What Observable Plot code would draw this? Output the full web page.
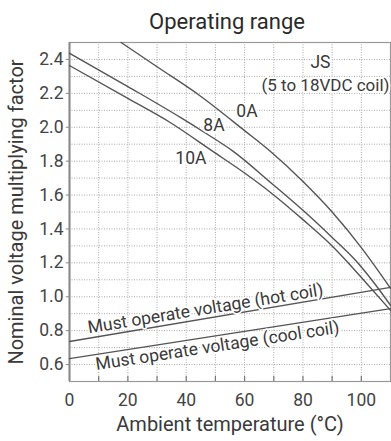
<!DOCTYPE html>
<html>
<head>
<meta charset="utf-8">
<script src="https://cdn.jsdelivr.net/npm/d3@7"></script>
<script src="https://cdn.jsdelivr.net/npm/@observablehq/plot@0.6"></script>
<style>
  html, body { margin: 0; padding: 0; background: #fff; }
  #chart svg { display: block; }
</style>
</head>
<body>
<div id="chart"></div>
<script>
// ---- Data ----
const temps0A   = [17.7, 30, 44.7, 60, 68.6, 80, 90, 100, 110];
const factor0A  = [2.5, 2.357, 2.186, 1.98, 1.861, 1.68, 1.5, 1.29, 1.05];

const temps8A   = [0, 20, 38, 46, 56, 69, 80, 90, 98, 104, 110];
const factor8A  = [2.437, 2.24, 2.058, 1.972, 1.859, 1.673, 1.51, 1.35, 1.215, 1.09, 0.95];

const temps10A  = [0, 20, 34.5, 49, 60, 69, 80, 90, 95, 102, 110];
const factor10A = [2.364, 2.17, 2.028, 1.859, 1.73, 1.614, 1.455, 1.30, 1.21, 1.075, 0.92];

const tempsHot   = [0, 110];
const factorHot  = [0.736, 1.055];
const tempsCool  = [0, 110];
const factorCool = [0.635, 0.93];

const xTicks = [0, 20, 40, 60, 80, 100];
const xGrid  = [10, 20, 30, 40, 50, 60, 70, 80, 90, 100];
const yTicks = [0.6, 0.8, 1.0, 1.2, 1.4, 1.6, 1.8, 2.0, 2.2, 2.4];
const yGrid  = [0.6, 0.7, 0.8, 0.9, 1.0, 1.1, 1.2, 1.3, 1.4, 1.5, 1.6, 1.7, 1.8, 1.9, 2.0, 2.1, 2.2, 2.3, 2.4];

const titleText = "Operating range";
const xLabel = "Ambient temperature (°C)";
const yLabel = "Nominal voltage multiplying factor";

// annotation labels (text, x in °C, y in factor)
const curveLabels = [
  {text: "0A",  t: 60.8, v: 2.092},
  {text: "8A",  t: 49.5, v: 2.009},
  {text: "10A", t: 41.6, v: 1.814},
  {text: "JS",  t: 86.0, v: 2.382}
];

// ---- build tables ----
const toRows = (ts, vs, name) => ts.map((t, i) => ({t, v: vs[i], name}));
const curves = [
  ...toRows(temps0A, factor0A, "0A"),
  ...toRows(temps8A, factor8A, "8A"),
  ...toRows(temps10A, factor10A, "10A")
];
const hot = toRows(tempsHot, factorHot, "hot");
const cool = toRows(tempsCool, factorCool, "cool");

const font = "Roboto, 'Open Sans', sans-serif";
const textColor = "#3a3a3a";
const lineColor = "#555";

const chart = Plot.plot({
  width: 391,
  height: 441,
  marginLeft: 69,
  marginRight: 1,
  marginTop: 42,
  marginBottom: 60,
  style: {fontFamily: font, fontSize: "17.5px", color: textColor, background: "#fff"},
  x: {domain: [0, 110], axis: null},
  y: {domain: [0.5, 2.5], axis: null},
  marks: [
    // dotted grid
    Plot.ruleY(yGrid, {y: d => d, stroke: "#a8a8a8", strokeWidth: 1, strokeDasharray: "1,1.5"}),
    Plot.ruleX(xGrid, {x: d => d, stroke: "#a8a8a8", strokeWidth: 1, strokeDasharray: "1,1.5"}),
    // frame
    Plot.frame({stroke: "#999", strokeWidth: 1.2}),
    Plot.ruleX([0], {x: d => d, stroke: "#888", strokeWidth: 2}),
    // bottom ticks (inward)
    Plot.ruleX(xGrid, {x: d => d, y1: 0.5, y2: 0.53, stroke: "#777", strokeWidth: 1.2}),
    // left ticks (outward)
    Plot.ruleY(yTicks, {y: d => d, x1: -1.1, x2: 0, stroke: "#888", strokeWidth: 1}),
    // curves
    Plot.line(curves, {x: "t", y: "v", z: "name", curve: "monotone-x", stroke: lineColor, strokeWidth: 1.4}),
    Plot.line(hot, {x: "t", y: "v", stroke: lineColor, strokeWidth: 1.4}),
    Plot.line(cool, {x: "t", y: "v", stroke: lineColor, strokeWidth: 1.4}),
    // annotation labels
    Plot.text(curveLabels, {x: "t", y: "v", text: "text", fontSize: 17.5, fill: textColor,
      stroke: "white", strokeWidth: 4}),
    Plot.text(["(5 to 18VDC coil)"], {x: 110, y: 2.246, dx: -1, textAnchor: "end", fontSize: 17,
      fill: textColor, stroke: "white", strokeWidth: 4}),
    Plot.text(["Must operate voltage (hot coil)"], {x: 46.6, y: 0.929, rotate: -9.2, fontSize: 17.5,
      fill: textColor, stroke: "white", strokeWidth: 3}),
    Plot.text(["Must operate voltage (cool coil)"], {x: 50.7, y: 0.71, rotate: -8.7, fontSize: 17.5,
      fill: textColor, stroke: "white", strokeWidth: 3}),
    // tick labels
    Plot.text(yTicks, {y: d => d, frameAnchor: "left", dx: -6, textAnchor: "end", lineAnchor: "middle",
      text: d => d.toFixed(1), fontSize: 17.5, fill: "#444"}),
    Plot.text(xTicks, {x: d => d, frameAnchor: "bottom", dy: 19, textAnchor: "middle", lineAnchor: "middle",
      text: d => String(d), fontSize: 17.5, fill: "#444"}),
    // axis labels and title
    Plot.text([xLabel], {frameAnchor: "bottom", dy: 43, textAnchor: "middle", lineAnchor: "middle",
      fontSize: 20, fill: textColor}),
    Plot.text([yLabel], {frameAnchor: "left", dx: -53, rotate: -90, textAnchor: "middle", lineAnchor: "middle",
      fontSize: 20, fill: textColor}),
    Plot.text([titleText], {frameAnchor: "top", dy: -21, dx: -3, textAnchor: "middle", lineAnchor: "middle",
      fontSize: 22, fill: "#2a2a2a"})
  ]
});
document.getElementById("chart").appendChild(chart);
</script>
</body>
</html>
